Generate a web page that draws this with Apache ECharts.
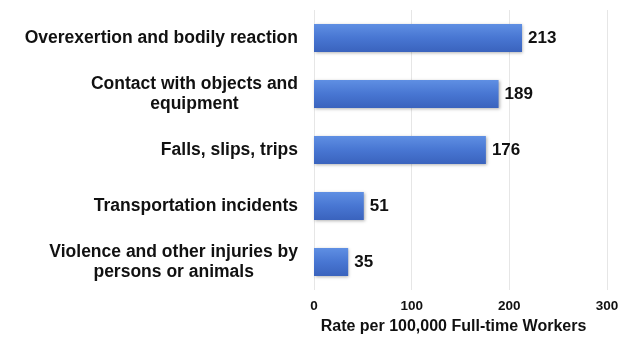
<!DOCTYPE html>
<html>
<head>
<meta charset="utf-8">
<script src="https://cdn.jsdelivr.net/npm/echarts@6/dist/echarts.min.js"></script>
<style>
  html, body { margin: 0; padding: 0; background: #fff; }
  #chart { width: 633px; height: 337px; }
</style>
</head>
<body>
<div id="chart"></div>
<script>
// Injury event categories, top to bottom
const categories = [
  'Overexertion and bodily reaction',
  'Contact with objects and\nequipment',
  'Falls, slips, trips',
  'Transportation incidents',
  'Violence and other injuries by\npersons or animals'
];
// Rate per 100,000 full-time workers
const rates = [213, 189, 176, 51, 35];
const xTicks = [0, 100, 200, 300];

const chart = echarts.init(document.getElementById('chart'));
const font = "'Liberation Sans', Arial, sans-serif";

chart.setOption({
  animation: false,
  grid: { left: 314, right: 26, top: 10, bottom: 47, containLabel: false, outerBoundsMode: 'none' },
  xAxis: {
    type: 'value',
    min: xTicks[0],
    max: xTicks[xTicks.length - 1],
    interval: 100,
    name: 'Rate per 100,000 Full-time Workers',
    nameLocation: 'middle',
    nameGap: 29,
    nameTextStyle: { fontFamily: font, fontWeight: 'bold', fontSize: 16, color: '#111', padding: [0, 14, 0, 0] },
    axisLine: { show: false },
    axisTick: { show: false },
    axisLabel: { fontFamily: font, fontWeight: 'bold', fontSize: 13.5, color: '#111', margin: 9 },
    splitLine: { show: true, lineStyle: { color: '#e6e6e6', width: 1 } }
  },
  yAxis: {
    type: 'category',
    inverse: true,
    data: categories,
    axisLine: { show: false },
    axisTick: { show: false },
    axisLabel: {
      margin: 16,
      align: 'right',
      formatter: function (v) {
        return v.split('\n').map(function (s) { return '{c|' + s + '}'; }).join('\n');
      },
      rich: {
        c: { fontFamily: font, fontWeight: 'bold', fontSize: 17.5, color: '#111', align: 'center', lineHeight: 20 }
      }
    }
  },
  series: [{
    type: 'bar',
    data: rates,
    barWidth: 28,
    itemStyle: {
      color: new echarts.graphic.LinearGradient(0, 0, 0, 1, [
        { offset: 0, color: '#5f8fe3' },
        { offset: 0.5, color: '#4876d2' },
        { offset: 1, color: '#3a63bd' }
      ]),
      shadowColor: 'rgba(0,0,0,0.3)',
      shadowBlur: 3,
      shadowOffsetX: 1,
      shadowOffsetY: 1
    },
    label: {
      show: true,
      position: 'right',
      distance: 6,
      fontFamily: font,
      fontWeight: 'bold',
      fontSize: 17,
      color: '#111'
    }
  }]
});
</script>
</body>
</html>
